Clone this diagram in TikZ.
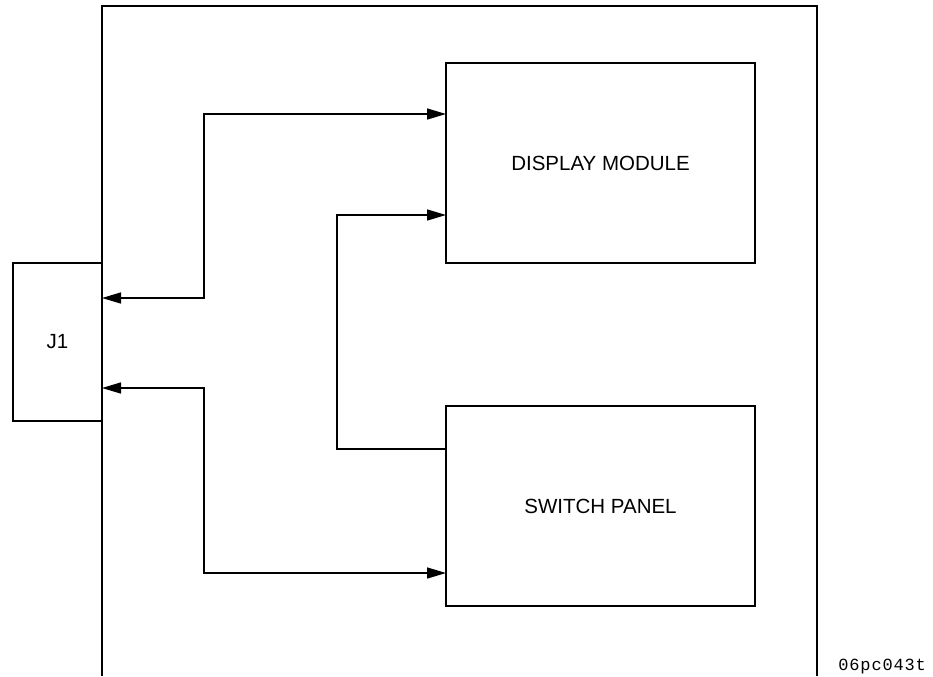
\documentclass[tikz,border=0pt]{standalone}
\usepackage{fontspec}
\setmainfont{Liberation Sans}
\newfontfamily\plotfont[LetterSpace=5]{Liberation Mono}
\usetikzlibrary{arrows.meta}
\tikzset{
  unit/.style ={draw, line width=0.8pt, inner sep=0pt, outer sep=0pt,
                font=\fontsize{10.25}{12}\selectfont},
  wire/.style ={line width=0.75pt},
  arr/.style  ={wire, -{Triangle[length=9.5pt,width=5.5pt]}},
  biarr/.style={wire, {Triangle[length=9.5pt,width=5.5pt]}-{Triangle[length=9.5pt,width=5.5pt]}},
}
\begin{document}
\begin{tikzpicture}[x=0.5pt,y=-0.5pt]
\useasboundingbox (0,0) rectangle (933,676);

% enclosure
\draw[line width=1pt] (102,676) -- (102,6) -- (817,6) -- (817,676);

% units
\node[unit, minimum width=44.5pt, minimum height=79pt] (j1) at (57.5,342) {J1};
\node[unit, minimum width=154.5pt, minimum height=100pt] (disp) at (600.5,163) {DISPLAY MODULE};
\node[unit, minimum width=154.5pt, minimum height=100pt] (sw) at (600.5,506) {SWITCH PANEL};

% connections
\draw[biarr] (j1.east |- 0,298) -- (204,298) |- (disp.west |- 0,114);
\draw[biarr] (j1.east |- 0,388) -- (204,388) |- (sw.west |- 0,573);
\draw[arr] (sw.west |- 0,449) -- (337,449) |- (disp.west |- 0,215);

\node[font=\fontsize{8.5}{10}\plotfont, anchor=west, inner sep=0pt] (code) at (838,667) {06pc043t};
\end{tikzpicture}
\end{document}
